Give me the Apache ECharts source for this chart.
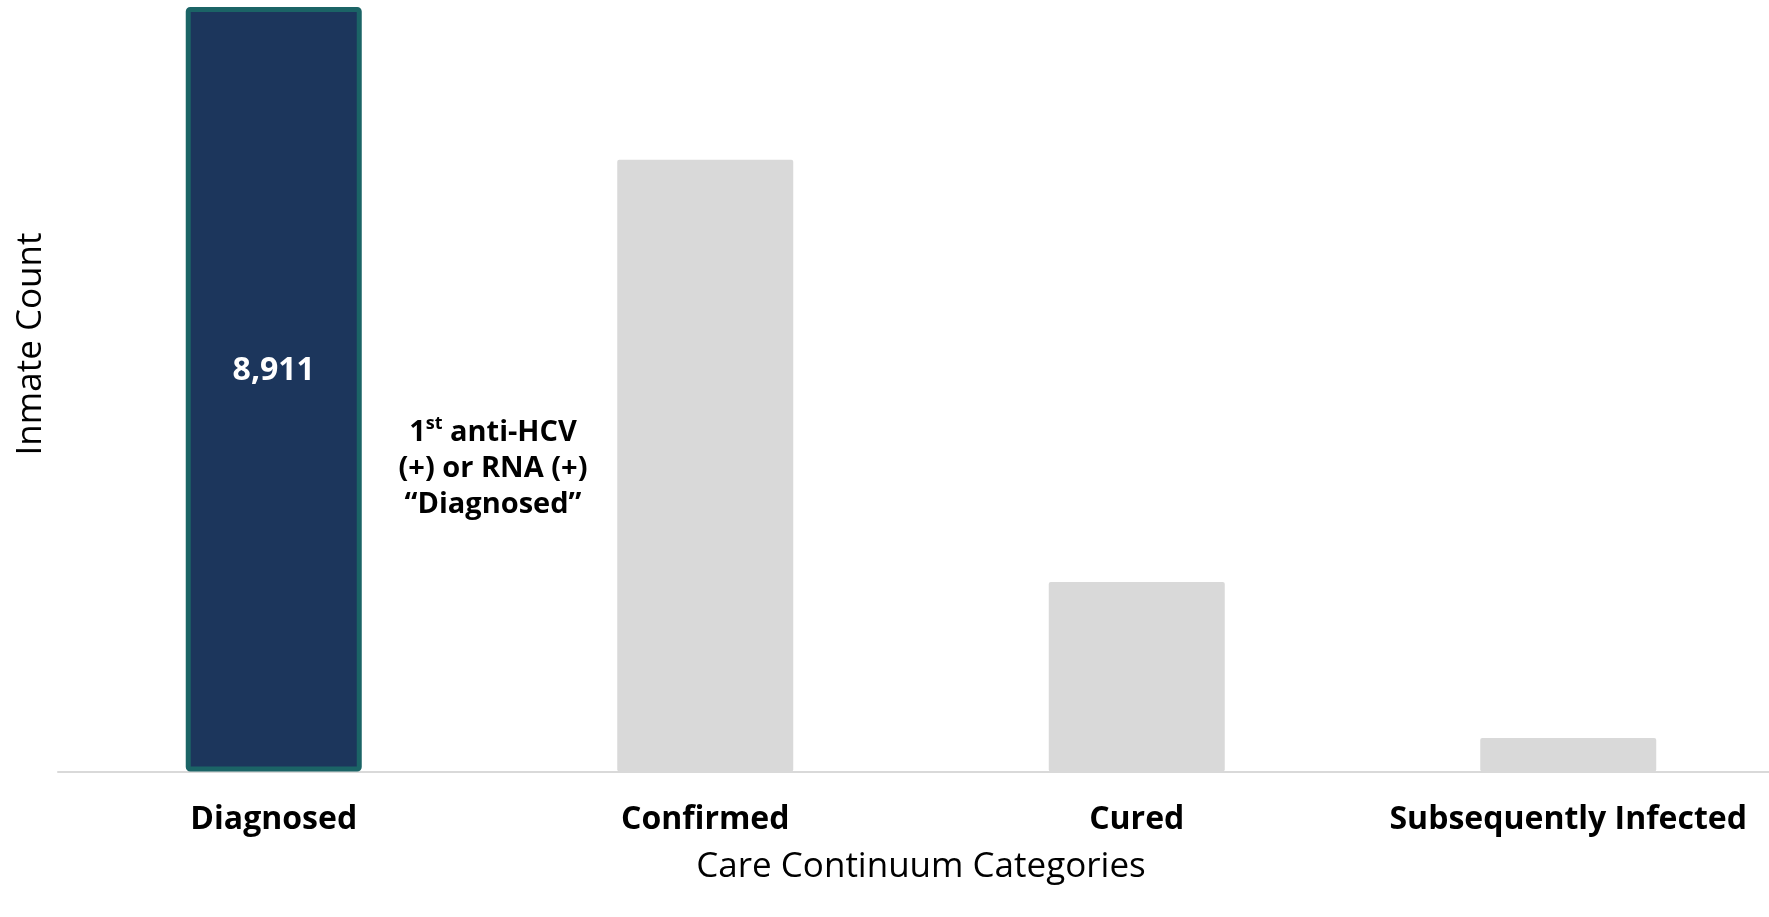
<!DOCTYPE html>
<html>
<head>
<meta charset="utf-8">
<script src="https://cdn.jsdelivr.net/npm/echarts@6/dist/echarts.min.js"></script>
<style>
  html, body { margin: 0; padding: 0; background: #ffffff; overflow: hidden; width: 1769px; height: 917px; }
  /* the plot runs past the right edge of the page, so the canvas is a little wider than the view */
  #chart { width: 1784px; height: 917px; }
</style>
</head>
<body>
<div id="chart"></div>
<script>
// Care continuum stages and inmate counts
const categories = ['Diagnosed', 'Confirmed', 'Cured', 'Subsequently Infected'];
const counts = [8911, 7130, 2210, 390];
const highlightIndex = 0;

const FONT = '"Open Sans", "Noto Sans", sans-serif';

const chart = echarts.init(document.getElementById('chart'));

const barData = counts.map((v, i) => {
  if (i === highlightIndex) {
    return {
      value: v,
      itemStyle: { color: '#1c365c', borderColor: '#1b6466', borderWidth: 5, borderRadius: 2 },
      label: {
        show: true,
        position: ['50%', 364],
        align: 'center',
        verticalAlign: 'middle',
        color: '#ffffff',
        fontFamily: FONT,
        fontWeight: 'bold',
        fontSize: 32,
        formatter: (p) => p.value.toLocaleString('en-US')
      }
    };
  }
  return { value: v };
});

chart.setOption({
  animation: false,
  grid: { left: 58, right: 0, top: 7, bottom: 145.5 },
  xAxis: {
    type: 'category',
    data: categories,
    axisLine: { show: true, lineStyle: { color: '#d9d9d9', width: 2 } },
    axisTick: { show: false },
    axisLabel: {
      interval: 0,
      color: '#000000',
      fontFamily: FONT,
      fontWeight: 'bold',
      fontSize: 32,
      margin: 32
    },
    name: 'Care Continuum Categories',
    nameLocation: 'middle',
    nameGap: 78,
    nameTextStyle: { color: '#000000', fontFamily: FONT, fontSize: 35 }
  },
  yAxis: {
    type: 'value',
    min: 0,
    max: 8911,
    show: true,
    axisLine: { show: false },
    axisTick: { show: false },
    axisLabel: { show: false },
    splitLine: { show: false }
  },
  series: [{
    type: 'bar',
    data: barData,
    barWidth: 176,
    itemStyle: { color: '#d9d9d9', borderRadius: 2 }
  }],
  graphic: [
    {
      type: 'text',
      x: 31,
      y: 344,
      rotation: Math.PI / 2,
      style: {
        text: 'Inmate Count',
        fill: '#000000',
        font: '35px ' + FONT,
        align: 'center',
        verticalAlign: 'middle'
      }
    },
    {
      type: 'text',
      x: 493,
      y: 469,
      style: {
        text: '{b|1}{s|st}{b| anti-HCV}\n{b|(+) or RNA (+)}\n{b|\u201cDiagnosed\u201d}',
        align: 'center',
        verticalAlign: 'middle',
        rich: {
          b: { fontFamily: FONT, fontWeight: 'bold', fontSize: 29, lineHeight: 36, fill: '#000000', color: '#000000' },
          s: { fontFamily: FONT, fontWeight: 'bold', fontSize: 18, lineHeight: 36, verticalAlign: 'top', padding: [0, 0, 4, 0], fill: '#000000', color: '#000000' }
        }
      }
    }
  ]
});
</script>
</body>
</html>
